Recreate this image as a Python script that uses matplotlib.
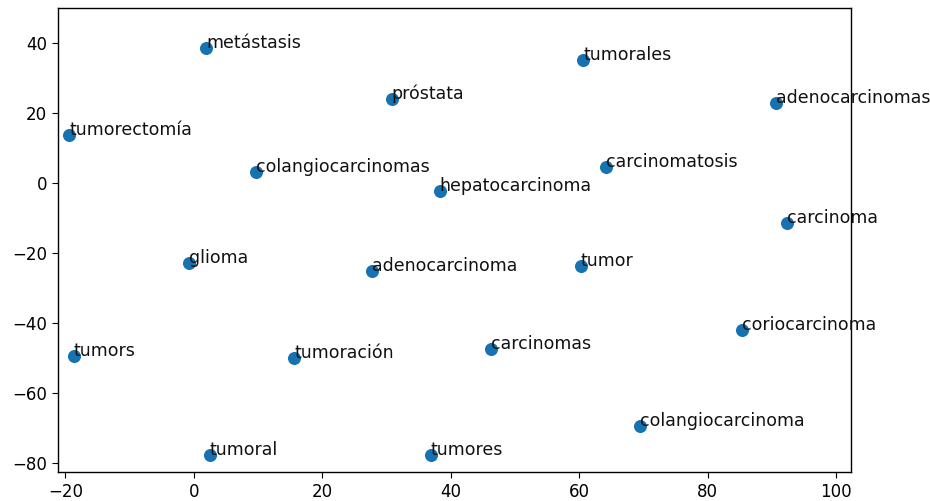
import matplotlib
matplotlib.use("Agg")
import matplotlib.pyplot as plt

# word embedding 2D projection (t-SNE style)
words = ["metástasis", "tumorales", "próstata", "adenocarcinomas", "tumorectomía",
         "colangiocarcinomas", "carcinomatosis", "hepatocarcinoma", "carcinoma",
         "glioma", "adenocarcinoma", "tumor", "coriocarcinoma", "tumors",
         "tumoración", "carcinomas", "colangiocarcinoma", "tumoral", "tumores"]
xs = [1.9, 60.6, 30.8, 90.7, -19.4, 9.6, 64.1, 38.3, 92.4, -0.8, 27.7, 60.2,
      85.4, -18.7, 15.6, 46.3, 69.5, 2.5, 36.9]
ys = [38.6, 35.1, 24.0, 22.9, 13.7, 3.1, 4.6, -2.3, -11.4, -22.9, -25.1, -23.7,
      -42.0, -49.4, -50.0, -47.4, -69.4, -77.7, -77.7]

plt.rcParams['font.size'] = 12
plt.rcParams['axes.linewidth'] = 1.0
plt.rcParams['xtick.major.size'] = 4.2
plt.rcParams['ytick.major.size'] = 4.2

fig, ax = plt.subplots(figsize=(9.3, 5.01), dpi=100)
fig.subplots_adjust(left=0.062, right=0.915, top=0.984, bottom=0.058)

ax.scatter(xs, ys, s=70, color='#1672b0')
for w, x, y in zip(words, xs, ys):
    ax.annotate(w, (x, y), fontsize=12.5, color='#111111', annotation_clip=False)

ax.set_xlim(-21.2, 102.3)
ax.set_ylim(-82.6, 50)

fig.savefig("out.png", dpi=100)
